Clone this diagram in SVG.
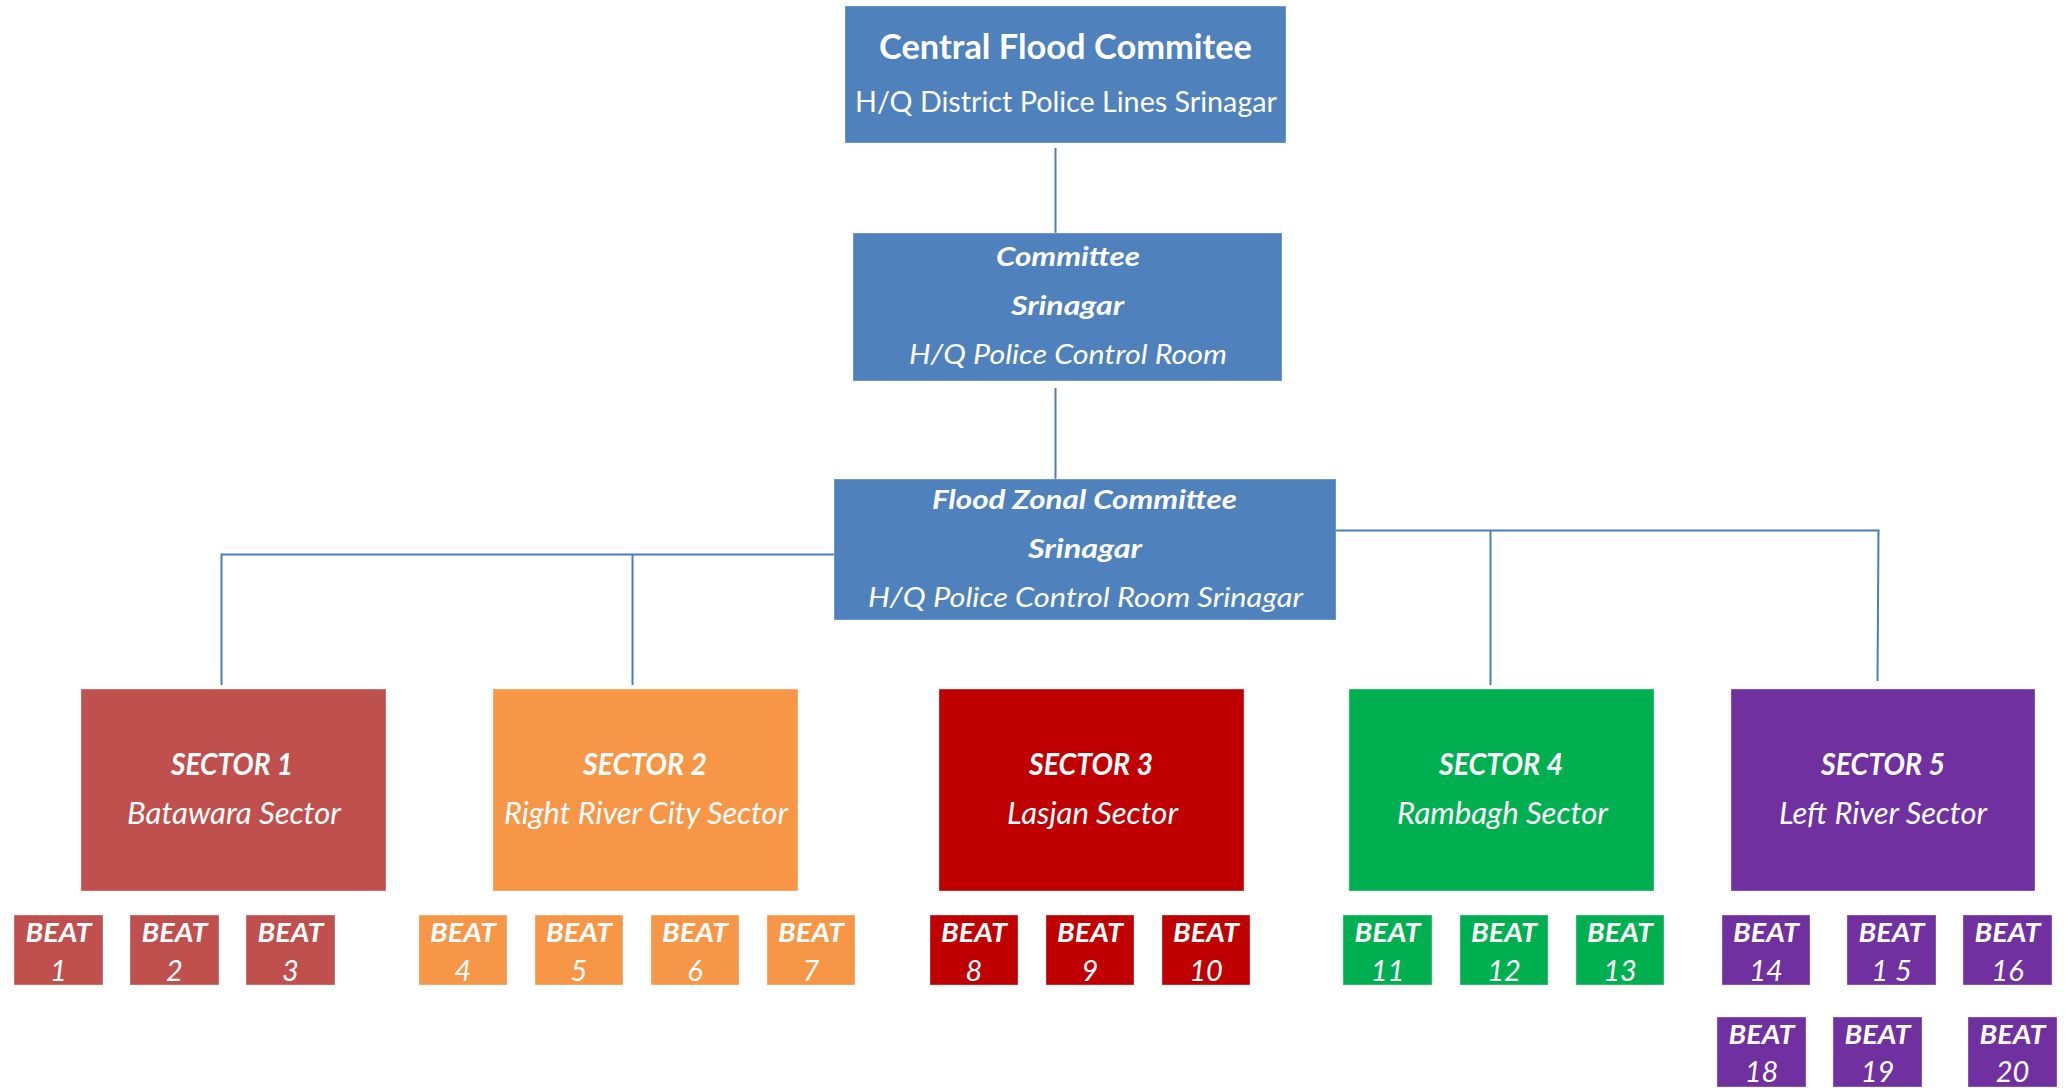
<svg xmlns="http://www.w3.org/2000/svg" width="2065" height="1088" viewBox="0 0 2065 1088">
<style>
text{font-family:Lato,"Open Sans","Liberation Sans",sans-serif;fill:#fff;text-anchor:middle}
.b{font-weight:bold}
.i{font-style:italic}
.box{stroke:#fff;stroke-opacity:0.35;stroke-width:1}
.hq{fill:#4F81BD}
.s1{fill:#C0504D}.s2{fill:#F79646}.s3{fill:#C00000}.s4{fill:#00B050}.s5{fill:#7030A0}
.t1{font-size:35px}.t2{font-size:29px}.t3{font-size:27px}.ts{font-size:30px}.tb{font-size:27px}.tn{font-size:29px}
#connectors line,#connectors polyline{stroke:#4A7EBB;stroke-width:2;fill:none}
</style>
<rect width="2065" height="1088" fill="#fff"/>
<g id="connectors">
<line x1="1055.5" y1="148" x2="1055.5" y2="233"/>
<line x1="1055.5" y1="388" x2="1055.5" y2="479"/>
<polyline points="834,554.5 221.5,554.5 221.5,685"/>
<line x1="632.5" y1="554.5" x2="632.5" y2="685"/>
<polyline points="1336,530.5 1878.5,530.5 1877.5,681"/>
<line x1="1490.5" y1="530.5" x2="1490.5" y2="685"/>
</g>
<g id="central">
<rect class="box hq" x="845" y="6" width="441" height="137"/>
<text class="b t1" x="1065.5" y="59" textLength="373" lengthAdjust="spacingAndGlyphs">Central Flood Commitee</text>
<text class="t2" x="1066" y="112" textLength="422" lengthAdjust="spacingAndGlyphs">H/Q District Police Lines Srinagar</text>
</g>
<g id="committee">
<rect class="box hq" x="853" y="233" width="429" height="148"/>
<text class="b i t3" x="1068" y="266" textLength="144" lengthAdjust="spacingAndGlyphs">Committee</text>
<text class="b i t3" x="1067.5" y="315" textLength="113" lengthAdjust="spacingAndGlyphs">Srinagar</text>
<text class="i t3" x="1068" y="364" textLength="318" lengthAdjust="spacingAndGlyphs">H/Q Police Control Room</text>
</g>
<g id="zonal">
<rect class="box hq" x="834" y="479" width="502" height="141"/>
<text class="b i t3" x="1084.5" y="509" textLength="305" lengthAdjust="spacingAndGlyphs">Flood Zonal Committee</text>
<text class="b i t3" x="1085" y="558" textLength="114" lengthAdjust="spacingAndGlyphs">Srinagar</text>
<text class="i t3" x="1085.5" y="607" textLength="435" lengthAdjust="spacingAndGlyphs">H/Q Police Control Room Srinagar</text>
</g>
<g id="sector1">
<rect class="box s1" x="81" y="689" width="305" height="202"/>
<text class="b i ts" x="232" y="775" textLength="122" lengthAdjust="spacingAndGlyphs">SECTOR 1</text>
<text class="i ts" x="234" y="824" textLength="214" lengthAdjust="spacingAndGlyphs">Batawara Sector</text>
</g>
<g id="sector2">
<rect class="box s2" x="493" y="689" width="305" height="202"/>
<text class="b i ts" x="645" y="775" textLength="124" lengthAdjust="spacingAndGlyphs">SECTOR 2</text>
<text class="i ts" x="646" y="824" textLength="284" lengthAdjust="spacingAndGlyphs">Right River City Sector</text>
</g>
<g id="sector3">
<rect class="box s3" x="939" y="689" width="305" height="202"/>
<text class="b i ts" x="1091" y="775" textLength="124" lengthAdjust="spacingAndGlyphs">SECTOR 3</text>
<text class="i ts" x="1092.5" y="824" textLength="171" lengthAdjust="spacingAndGlyphs">Lasjan Sector</text>
</g>
<g id="sector4">
<rect class="box s4" x="1349" y="689" width="305" height="202"/>
<text class="b i ts" x="1501" y="775" textLength="124" lengthAdjust="spacingAndGlyphs">SECTOR 4</text>
<text class="i ts" x="1502.5" y="824" textLength="211" lengthAdjust="spacingAndGlyphs">Rambagh Sector</text>
</g>
<g id="sector5">
<rect class="box s5" x="1731" y="689" width="304" height="202"/>
<text class="b i ts" x="1883" y="775" textLength="124" lengthAdjust="spacingAndGlyphs">SECTOR 5</text>
<text class="i ts" x="1883" y="824" textLength="208" lengthAdjust="spacingAndGlyphs">Left River Sector</text>
</g>
<g id="beat1"><rect class="box s1" x="14" y="915" width="89" height="70"/><text class="b i tb" x="58.5" y="942" textLength="66" lengthAdjust="spacingAndGlyphs">BEAT</text><text class="i tn" x="58.5" y="981">1</text></g>
<g id="beat2"><rect class="box s1" x="130" y="915" width="89" height="70"/><text class="b i tb" x="174.5" y="942" textLength="66" lengthAdjust="spacingAndGlyphs">BEAT</text><text class="i tn" x="174.5" y="981">2</text></g>
<g id="beat3"><rect class="box s1" x="246" y="915" width="89" height="70"/><text class="b i tb" x="290.5" y="942" textLength="66" lengthAdjust="spacingAndGlyphs">BEAT</text><text class="i tn" x="290.5" y="981">3</text></g>
<g id="beat4"><rect class="box s2" x="419" y="915" width="88" height="70"/><text class="b i tb" x="463" y="942" textLength="66" lengthAdjust="spacingAndGlyphs">BEAT</text><text class="i tn" x="463" y="981">4</text></g>
<g id="beat5"><rect class="box s2" x="535" y="915" width="88" height="70"/><text class="b i tb" x="579" y="942" textLength="66" lengthAdjust="spacingAndGlyphs">BEAT</text><text class="i tn" x="579" y="981">5</text></g>
<g id="beat6"><rect class="box s2" x="651" y="915" width="88" height="70"/><text class="b i tb" x="695" y="942" textLength="66" lengthAdjust="spacingAndGlyphs">BEAT</text><text class="i tn" x="695" y="981">6</text></g>
<g id="beat7"><rect class="box s2" x="767" y="915" width="88" height="70"/><text class="b i tb" x="811" y="942" textLength="66" lengthAdjust="spacingAndGlyphs">BEAT</text><text class="i tn" x="811" y="981">7</text></g>
<g id="beat8"><rect class="box s3" x="930" y="915" width="88" height="70"/><text class="b i tb" x="974" y="942" textLength="66" lengthAdjust="spacingAndGlyphs">BEAT</text><text class="i tn" x="974" y="981">8</text></g>
<g id="beat9"><rect class="box s3" x="1046" y="915" width="88" height="70"/><text class="b i tb" x="1090" y="942" textLength="66" lengthAdjust="spacingAndGlyphs">BEAT</text><text class="i tn" x="1090" y="981">9</text></g>
<g id="beat10"><rect class="box s3" x="1162" y="915" width="88" height="70"/><text class="b i tb" x="1206" y="942" textLength="66" lengthAdjust="spacingAndGlyphs">BEAT</text><text class="i tn" x="1206" y="981">10</text></g>
<g id="beat11"><rect class="box s4" x="1343" y="915" width="89" height="70"/><text class="b i tb" x="1387.5" y="942" textLength="66" lengthAdjust="spacingAndGlyphs">BEAT</text><text class="i tn" x="1387.5" y="981">11</text></g>
<g id="beat12"><rect class="box s4" x="1460" y="915" width="88" height="70"/><text class="b i tb" x="1504" y="942" textLength="66" lengthAdjust="spacingAndGlyphs">BEAT</text><text class="i tn" x="1504" y="981">12</text></g>
<g id="beat13"><rect class="box s4" x="1576" y="915" width="88" height="70"/><text class="b i tb" x="1620" y="942" textLength="66" lengthAdjust="spacingAndGlyphs">BEAT</text><text class="i tn" x="1620" y="981">13</text></g>
<g id="beat14"><rect class="box s5" x="1722" y="915" width="88" height="70"/><text class="b i tb" x="1766" y="942" textLength="66" lengthAdjust="spacingAndGlyphs">BEAT</text><text class="i tn" x="1766" y="981">14</text></g>
<g id="beat15"><rect class="box s5" x="1847" y="915" width="89" height="70"/><text class="b i tb" x="1891.5" y="942" textLength="66" lengthAdjust="spacingAndGlyphs">BEAT</text><text class="i tn" x="1891.5" y="981" xml:space="preserve">1 5</text></g>
<g id="beat16"><rect class="box s5" x="1963" y="915" width="89" height="70"/><text class="b i tb" x="2007.5" y="942" textLength="66" lengthAdjust="spacingAndGlyphs">BEAT</text><text class="i tn" x="2007.5" y="981">16</text></g>
<g id="beat18"><rect class="box s5" x="1717" y="1017" width="89" height="70"/><text class="b i tb" x="1761.5" y="1044" textLength="66" lengthAdjust="spacingAndGlyphs">BEAT</text><text class="i tn" x="1761.5" y="1082">18</text></g>
<g id="beat19"><rect class="box s5" x="1833" y="1017" width="89" height="70"/><text class="b i tb" x="1877.5" y="1044" textLength="66" lengthAdjust="spacingAndGlyphs">BEAT</text><text class="i tn" x="1877.5" y="1082">19</text></g>
<g id="beat20"><rect class="box s5" x="1968" y="1017" width="89" height="70"/><text class="b i tb" x="2012.5" y="1044" textLength="66" lengthAdjust="spacingAndGlyphs">BEAT</text><text class="i tn" x="2012.5" y="1082">20</text></g>
</svg>
